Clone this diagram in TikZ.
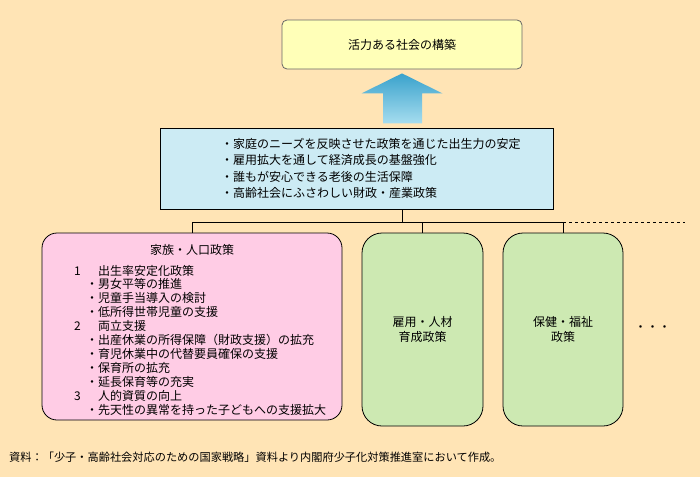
\documentclass[tikz,border=0pt]{standalone}
\usepackage{fontspec}
\setmainfont{Noto Sans CJK JP}
\usepackage{tikz}
\usetikzlibrary{calc}

\definecolor{bgtan}{HTML}{FFE4B5}
\definecolor{goalyellow}{HTML}{FFFFB8}
\definecolor{aimblue}{HTML}{CCEBF4}
\definecolor{policypink}{HTML}{FFCCE5}
\definecolor{policygreen}{HTML}{CDE9B2}
\definecolor{arrowtop}{HTML}{3AA2CC}
\definecolor{arrowbot}{HTML}{A6DDEF}

\begin{document}
\begin{tikzpicture}[x=1pt, y=-1pt,
    jp/.style={font=\fontsize{12}{14}\selectfont, inner sep=0pt},
    policybox/.style={draw, line width=0.8pt, inner sep=0pt, rounded corners=#1},
    policybox/.default=20pt]
    \fill[bgtan] (0,0) rectangle (700,477);
    \useasboundingbox (0,0) rectangle (700,477);

    % goal and aims
    \node[draw=black!60, line width=0.8pt, fill=goalyellow, rounded corners=5pt,
        minimum width=240pt, minimum height=49pt] (goal) at (402,44.5) {};
    \node[jp] (goaltext) at (goal.center) {活力ある社会の構築};
    \node[draw, line width=0.8pt, fill=aimblue, minimum width=393pt, minimum height=81pt] (aims) at (356.5,168.5) {};
    \node[jp, anchor=west, align=left, font=\fontsize{12}{16.3}\selectfont] (aimtext) at (221,168.5)
        {・家庭のニーズを反映させた政策を通じた出生力の安定\\
         ・雇用拡大を通して経済成長の基盤強化\\
         ・誰もが安心できる老後の生活保障\\
         ・高齢社会にふさわしい財政・産業政策};
    \coordinate (tip) at ([yshift=-4pt]goal.south);
    \shade[top color=arrowtop, bottom color=arrowbot]
        (tip) -- ($(tip)+(40.5,20)$) -- ($(tip)+(20,20)$) -- ($(tip)+(20,50)$)
        -- ($(tip)+(-19,50)$) -- ($(tip)+(-19,20)$) -- ($(tip)+(-40.5,20)$) -- cycle;

    % policies
    \node[policybox=15pt, fill=policypink, minimum width=300pt, minimum height=187pt] (family) at (192,326.5) {};
    \node[jp] (familytitle) at (192,250) {家族・人口政策};
    \node[jp, anchor=west, align=left, font=\fontsize{12}{13.9}\selectfont] (familytext) at (74,340)
        {\makebox[24pt][l]{1}出生率安定化政策\\
         \hspace{12pt}・男女平等の推進\\
         \hspace{12pt}・児童手当導入の検討\\
         \hspace{12pt}・低所得世帯児童の支援\\
         \makebox[24pt][l]{2}両立支援\\
         \hspace{12pt}・出産休業の所得保障（財政支援）の拡充\\
         \hspace{12pt}・育児休業中の代替要員確保の支援\\
         \hspace{12pt}・保育所の拡充\\
         \hspace{12pt}・延長保育等の充実\\
         \makebox[24pt][l]{3}人的資質の向上\\
         \hspace{12pt}・先天性の異常を持った子どもへの支援拡大};
    \node[policybox, fill=policygreen, minimum width=121pt, minimum height=193pt] (labour) at (422.5,329.5) {};
    \node[jp, align=center, font=\fontsize{12}{15}\selectfont] (labourtext) at (labour.center) {雇用・人材\\育成政策};
    \node[policybox, fill=policygreen, minimum width=120pt, minimum height=193pt] (welfare) at (563,329.5) {};
    \node[jp, align=center, font=\fontsize{12}{15}\selectfont] (welfaretext) at (welfare.center) {保健・福祉\\政策};
    \node[jp] (more) at (652.5,329) {・・・};

    % connectors
    \coordinate (drop) at (402,222);
    \coordinate (busend) at (685,222);
    \draw[line width=0.8pt] (drop |- aims.south) -- (drop);
    \draw[line width=0.8pt] (family.north) -- (family.north |- drop) -- (welfare.north |- drop) -- (welfare.north);
    \draw[line width=0.8pt] (labour.north) -- (labour.north |- drop);
    \draw[line width=0.8pt, dashed] (welfare.north |- drop) -- (busend);

    \node[jp, anchor=west, font=\fontsize{11.2}{13}\selectfont] (source) at (9,457)
        {資料：「少子・高齢社会対応のための国家戦略」資料より内閣府少子化対策推進室において作成。};
\end{tikzpicture}
\end{document}
